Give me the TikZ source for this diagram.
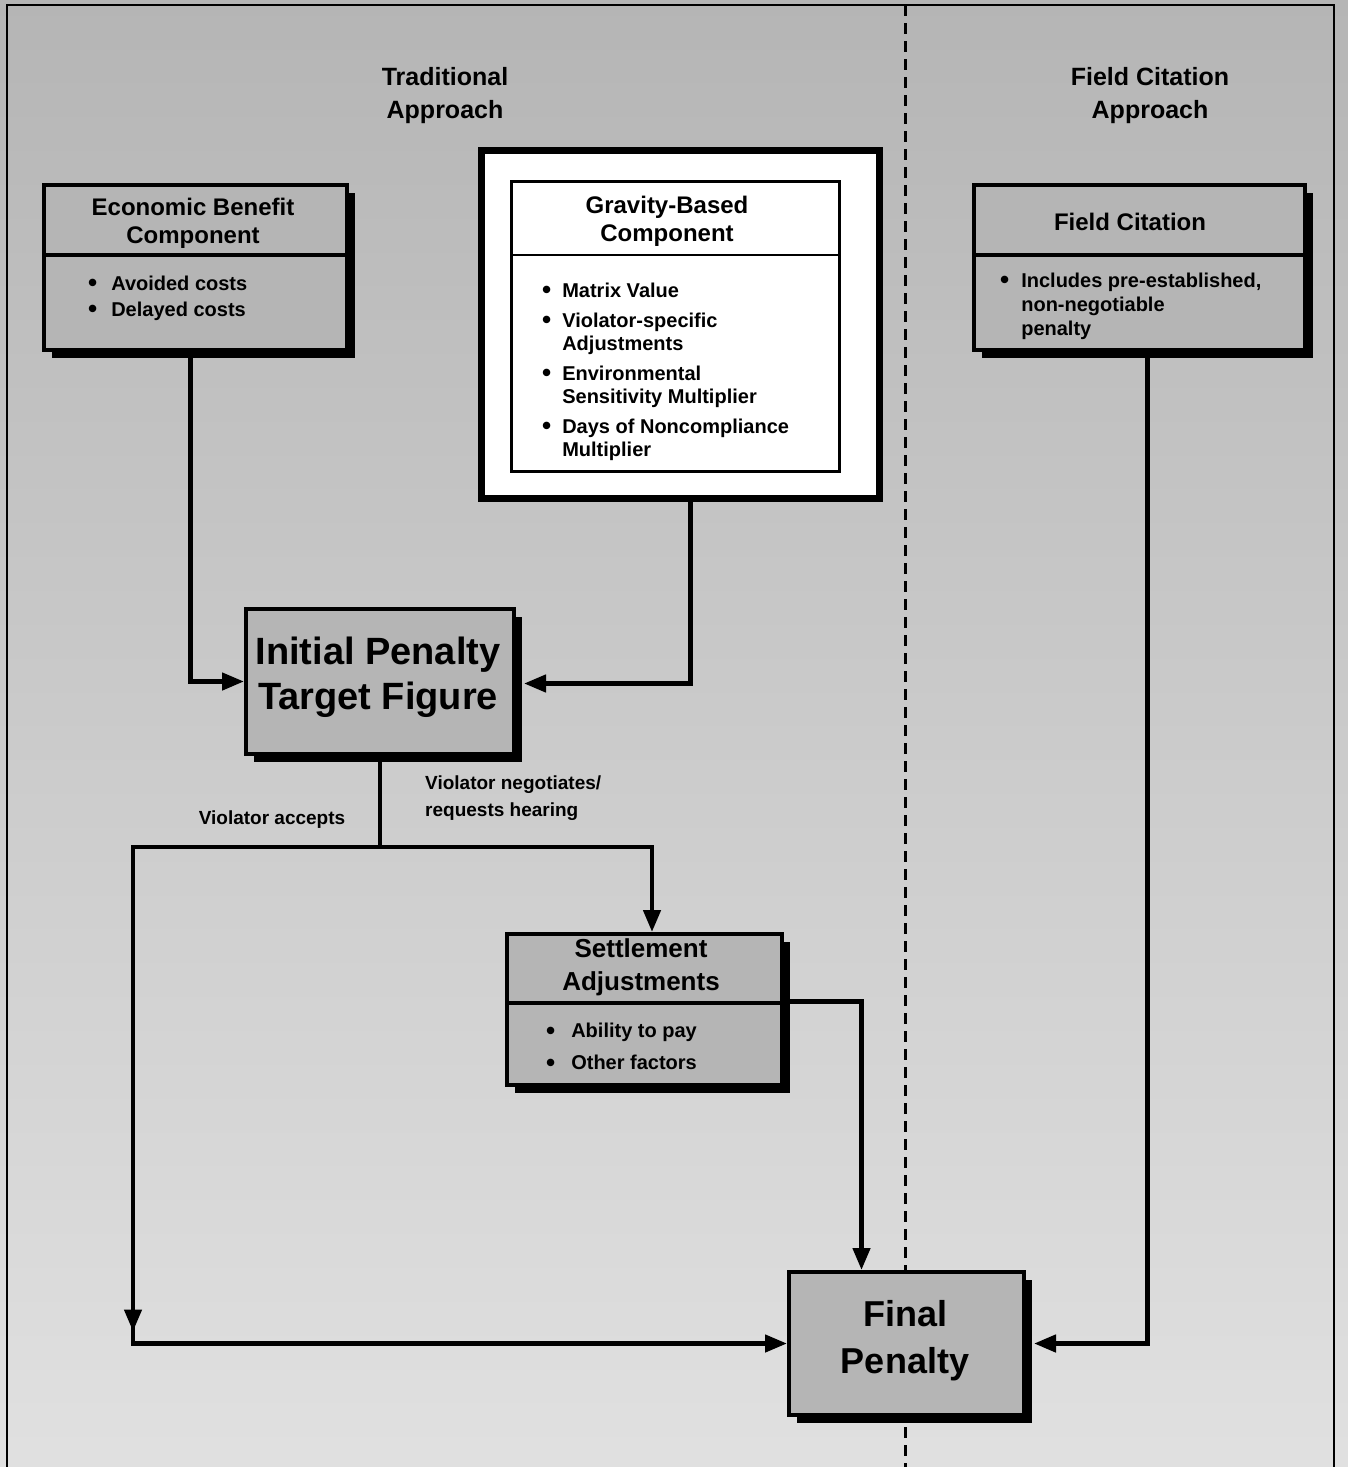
\documentclass[tikz,border=0pt]{standalone}
\usepackage{fontspec}
\setmainfont{Liberation Sans}
\usetikzlibrary{arrows.meta,shadows}
\newcommand\bul{\raisebox{-1.5pt}{\fontsize{26}{0}\selectfont •}}
\begin{document}
\begin{tikzpicture}[x=1pt,y=-1pt,
  box/.style={draw=black,line width=4pt,fill=gray!58,inner sep=0pt,anchor=north west,
    drop shadow={shadow xshift=8pt,shadow yshift=-8pt,fill=black,opacity=1}},
  plainbox/.style={draw=black,inner sep=0pt,anchor=north west,fill=white},
  divider/.style={line width=4pt},
  hd/.style={font=\bfseries\fontsize{24}{28}\selectfont,align=center,inner sep=0pt},
  title/.style={font=\bfseries\fontsize{25}{33}\selectfont,align=center,inner sep=0pt},
  big/.style={font=\bfseries\fontsize{38}{45}\selectfont,align=center,inner sep=0pt},
  items/.style={inner sep=0pt,anchor=north west,align=left},
  lbl/.style={font=\bfseries\fontsize{19}{27}\selectfont,inner sep=0pt,align=left},
  conn/.style={line width=4.5pt},
  arr/.style={line width=4.5pt,-{Triangle[length=22pt,width=17pt]}}
]
\useasboundingbox (0,0) rectangle (1348,1467);
% background
\shade[top color=gray!58,middle color=gray!46,bottom color=gray!24] (0,0) rectangle (1348,1467);
% frame and divider
\draw[line width=2.5pt] (7,1467) -- (7,5) -- (1334,5) -- (1334,1467);
\draw[line width=3pt,dash pattern=on 11pt off 7pt] (905,5) -- (905,1467);

% titles
\node[title] (trad) at (445,96) {Traditional\\Approach};
\node[title] (fca) at (1150,96) {Field Citation\\Approach};

% Economic Benefit box
\node[box,minimum width=303pt,minimum height=165pt] (econ) at (42,183) {};
\draw[divider] (econ.west |- 0,255) -- (econ.east |- 0,255);
\node[hd] (econhd) at (193,223) {Economic Benefit\\Component};
\node[items] (econit) at (88,272) {\bfseries\fontsize{20}{26}\selectfont
  \begin{tabular}{@{}l@{\hspace{14pt}}l@{}}
  \bul & Avoided costs\\
  \bul & Delayed costs
  \end{tabular}};

% Gravity-Based box
\node[plainbox,line width=7pt,minimum width=398pt,minimum height=348pt] (grav) at (478,147) {};
\node[plainbox,line width=2.5pt,minimum width=328pt,minimum height=290pt] (gravin) at (510,180) {};
\draw[line width=2.5pt] (gravin.west |- 0,255) -- (gravin.east |- 0,255);
\node[hd] (gravhd) at (667,221) {Gravity-Based\\Component};
\node[items] (gravit) at (542,281) {\bfseries\fontsize{20}{23}\selectfont
  \begin{tabular}{@{}l@{\hspace{11pt}}l@{}}
  \bul & Matrix Value\\[7pt]
  \bul & Violator-specific\\
    & Adjustments\\[7pt]
  \bul & Environmental\\
    & Sensitivity Multiplier\\[7pt]
  \bul & Days of Noncompliance\\
    & Multiplier
  \end{tabular}};

% Field Citation box
\node[box,minimum width=331pt,minimum height=165pt] (field) at (972,183) {};
\draw[divider] (field.west |- 0,255) -- (field.east |- 0,255);
\node[hd] (fieldhd) at (1130,222) {Field Citation};
\node[items] (fieldit) at (1000,270) {\bfseries\fontsize{20}{24}\selectfont
  \begin{tabular}{@{}l@{\hspace{12pt}}l@{}}
  \bul & Includes pre-established,\\
    & non-negotiable\\
    & penalty
  \end{tabular}};

% Initial Penalty box
\node[box,minimum width=268pt,minimum height=145pt] (init) at (244,607) {};
\node[big] (inittx) at (378,677) {Initial Penalty\\Target Figure};

% Settlement box
\node[box,minimum width=275pt,minimum height=151pt] (settle) at (505,932) {};
\draw[divider] (settle.west |- 0,1003) -- (settle.east |- 0,1003);
\node[hd,font=\bfseries\fontsize{26}{33}\selectfont] (settlehd) at (641,967) {Settlement\\Adjustments};
\node[items] (settleit) at (546,1015) {\bfseries\fontsize{20}{32}\selectfont
  \begin{tabular}{@{}l@{\hspace{16pt}}l@{}}
  \bul & Ability to pay\\
  \bul & Other factors
  \end{tabular}};

% Final Penalty box
\node[box,minimum width=235pt,minimum height=143pt] (final) at (787,1270) {};
\node[big,font=\bfseries\fontsize{36}{47}\selectfont] (finaltx) at (905,1341) {Final\\Penalty};

% connectors
\coordinate (econout) at ([xshift=-5pt]econ.south);
\draw[arr] ([yshift=-6pt]econout) |- (init.west);
\coordinate (gravout) at ([xshift=10pt]grav.south);
\draw[arr] (gravout) |- ([xshift=8pt,yshift=-2pt]init.east);

\coordinate (j) at (380,847);
\coordinate (jl) at (133,847);
\coordinate (jr) at (652,847);
\draw[conn] ([yshift=-6pt]init.south -| j) -- (j);
\draw[conn,line cap=rect] (jl) -- (jr);
\draw[arr] (jr) -- (jr |- settle.north);

\coordinate (lc) at (jl |- final.west);
\draw[conn,line cap=rect] (jl) -- (lc);
\draw[arr] (jl) -- ([yshift=12pt]lc);
\draw[arr] (lc) -- (final.west);

\coordinate (sr) at ([xshift=-45pt]final.north);
\draw[arr] ([yshift=8pt]settle.east) -| (sr);

\coordinate (fout) at ([xshift=8pt]field.south);
\draw[arr] ([yshift=-6pt]fout) |- ([xshift=8pt]final.east);

% labels
\node[lbl,anchor=center] (acc) at (272,820) {Violator accepts};
\node[lbl,anchor=north west] (neg) at (425,776) {Violator negotiates/\\requests hearing};
\end{tikzpicture}
\end{document}
